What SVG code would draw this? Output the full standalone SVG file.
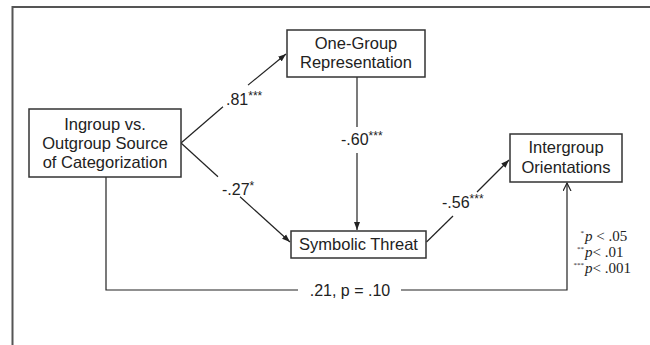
<svg xmlns="http://www.w3.org/2000/svg" width="650" height="345" viewBox="0 0 650 345">
<style>
.box{fill:#fff;stroke:#333;stroke-width:1.5}
.t{font-family:"Liberation Sans",Arial,sans-serif;font-size:16.5px;fill:#222;text-anchor:middle}
.lbl{font-family:"Liberation Sans",Arial,sans-serif;font-size:16px;fill:#222}
.sup{font-size:12px}
.ln{fill:none;stroke:#222;stroke-width:1.2}
.leg{font-family:"Liberation Serif","Times New Roman",serif;font-size:15px;fill:#222}
.legs{font-family:"Liberation Serif","Times New Roman",serif;font-size:7px;fill:#222}
</style>
<defs>
<marker id="ah" markerWidth="9" markerHeight="7" refX="8" refY="3.5" orient="auto" markerUnits="userSpaceOnUse">
<path d="M0,0.5 L8,3.5 L0,6.5 z" fill="#222"/>
</marker>
<marker id="ao" markerWidth="10" markerHeight="10" refX="8" refY="4" orient="auto" markerUnits="userSpaceOnUse">
<path d="M0,0 L8,4 L0,8" fill="none" stroke="#222" stroke-width="1.2"/>
</marker>
</defs>
<path d="M12.5,345 V7 H650" fill="none" stroke="#555" stroke-width="2"/>
<g id="connectors">
<line class="ln" x1="181" y1="143" x2="223" y2="106.7"/>
<line class="ln" x1="248" y1="85.1" x2="286" y2="54" marker-end="url(#ah)"/>
<line class="ln" x1="181" y1="143" x2="218" y2="176.7"/>
<line class="ln" x1="240" y1="196.7" x2="290" y2="242" marker-end="url(#ah)"/>
<line class="ln" x1="357" y1="77" x2="357" y2="127"/>
<line class="ln" x1="357" y1="153" x2="357" y2="230" marker-end="url(#ah)"/>
<line class="ln" x1="426.5" y1="242" x2="453" y2="216"/>
<line class="ln" x1="477" y1="192" x2="509" y2="160" marker-end="url(#ah)"/>
<polyline class="ln" points="106,177 106,290 298,290"/>
<polyline class="ln" points="401,290 567,290 567,183" marker-end="url(#ao)"/>
<text class="lbl" x="226" y="105">.81<tspan class="sup" dy="-5">***</tspan></text>
<text class="lbl" x="222" y="195">-.27<tspan class="sup" dy="-5">*</tspan></text>
<text class="lbl" x="341" y="145">-.60<tspan class="sup" dy="-5">***</tspan></text>
<text class="lbl" x="442" y="208">-.56<tspan class="sup" dy="-5">***</tspan></text>
<text class="lbl" x="350" y="296" text-anchor="middle">.21, p = .10</text>
</g>
<g id="ingroup">
<rect class="box" x="29" y="109" width="152" height="68"/>
<text class="t" x="105" y="130">Ingroup vs.</text>
<text class="t" x="105" y="149">Outgroup Source</text>
<text class="t" x="105" y="168">of Categorization</text>
</g>
<g id="onegroup">
<rect class="box" x="287" y="30" width="138" height="47"/>
<text class="t" x="356" y="49">One-Group</text>
<text class="t" x="356" y="68">Representation</text>
</g>
<g id="threat">
<rect class="box" x="291" y="231" width="135" height="27"/>
<text class="t" x="358.5" y="250">Symbolic Threat</text>
</g>
<g id="intergroup">
<rect class="box" x="510" y="134" width="112" height="48"/>
<text class="t" x="566" y="153">Intergroup</text>
<text class="t" x="566" y="173">Orientations</text>
</g>
<g id="legend">
<text class="legs" x="584" y="235" text-anchor="end">*</text>
<text class="leg" x="585" y="241" font-style="italic">p<tspan font-style="normal"> &lt; .05</tspan></text>
<text class="legs" x="584" y="251" text-anchor="end">**</text>
<text class="leg" x="585" y="257" font-style="italic">p<tspan font-style="normal">&lt; .01</tspan></text>
<text class="legs" x="584" y="267" text-anchor="end">***</text>
<text class="leg" x="585" y="273" font-style="italic">p<tspan font-style="normal">&lt; .001</tspan></text>
</g>
</svg>
